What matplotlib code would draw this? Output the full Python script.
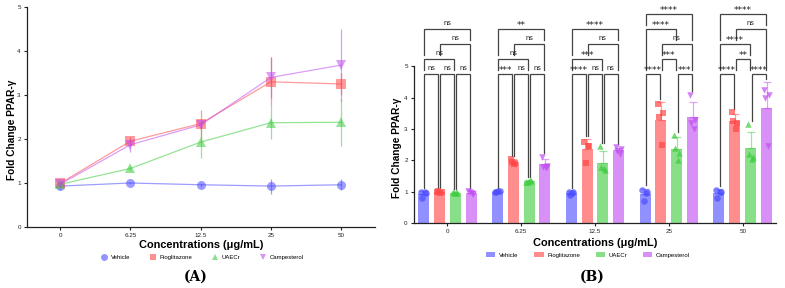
import numpy as np
import matplotlib
matplotlib.use("Agg")
import matplotlib.pyplot as plt
from matplotlib.lines import Line2D
from matplotlib.patches import Patch

plt.rcParams['font.family'] = ['Liberation Sans', 'DejaVu Sans']

# данные
concentrations = ['0', '6.25', '12.5', '25', '50']
groups = ['Vehicle', 'Pioglitazone', 'UAECr', 'Campesterol']
colors = ['#4d4dff', '#ff4747', '#3fcc3f', '#c04df2']
markers = ['o', 's', '^', 'v']

vehicle_mean = [0.93, 1.00, 0.96, 0.93, 0.96]
pio_mean = [0.99, 1.95, 2.35, 3.30, 3.25]
uae_mean = [0.97, 1.33, 1.93, 2.37, 2.38]
camp_mean = [0.97, 1.87, 2.32, 3.40, 3.68]

vehicle_sd = [0.10, 0.03, 0.05, 0.17, 0.12]
pio_sd = [0.03, 0.08, 0.32, 0.56, 0.24]
uae_sd = [0.03, 0.05, 0.37, 0.38, 0.54]
camp_sd = [0.05, 0.17, 0.08, 0.47, 0.82]

# отдельные точки (4 повтора на каждую концентрацию)
vehicle_pts = [[1.00, 0.97, 0.80, 0.98], [1.00, 1.02, 0.98, 1.01], [0.98, 1.00, 0.90, 0.97],
               [1.05, 1.00, 0.70, 0.97], [1.05, 1.00, 0.80, 0.99]]
pio_pts = [[1.00, 0.98, 1.02, 0.97], [2.05, 1.90, 1.95, 1.88], [2.60, 2.45, 1.90, 2.45],
           [3.80, 3.50, 3.40, 2.50], [3.55, 3.20, 3.25, 3.00]]
uae_pts = [[0.98, 0.97, 0.96, 0.98], [1.32, 1.35, 1.30, 1.36], [2.45, 1.70, 1.80, 1.77],
           [2.80, 2.25, 2.40, 2.00], [3.15, 2.10, 2.20, 2.05]]
camp_pts = [[1.02, 0.93, 0.98, 0.95], [2.12, 1.82, 1.78, 1.77], [2.43, 2.35, 2.30, 2.20],
            [4.10, 3.30, 3.20, 3.00], [4.25, 4.10, 4.00, 2.45]]

# сравнения: (i, j, метка, уровень)
comparisons = [
    [(0, 1, 'ns', 1), (1, 2, 'ns', 1), (2, 3, 'ns', 1), (0, 2, 'ns', 2), (1, 3, 'ns', 3), (0, 3, 'ns', 4)],
    [(0, 1, '***', 1), (1, 2, 'ns', 1), (2, 3, 'ns', 1), (0, 2, 'ns', 2), (1, 3, 'ns', 3), (0, 3, '**', 4)],
    [(0, 1, '****', 1), (1, 2, 'ns', 1), (2, 3, 'ns', 1), (0, 2, '***', 2), (1, 3, 'ns', 3), (0, 3, '****', 4)],
    [(0, 1, '****', 1), (2, 3, '***', 1), (1, 2, '***', 2), (1, 3, 'ns', 3), (0, 2, '****', 4), (0, 3, '****', 5)],
    [(0, 1, '****', 1), (2, 3, '****', 1), (1, 2, '**', 2), (0, 2, '****', 3), (1, 3, 'ns', 4), (0, 3, '****', 5)],
]

means = [vehicle_mean, pio_mean, uae_mean, camp_mean]
sds = [vehicle_sd, pio_sd, uae_sd, camp_sd]
points = [vehicle_pts, pio_pts, uae_pts, camp_pts]

W, H = 785, 288
fig = plt.figure(figsize=(W / 100, H / 100), dpi=100)

tick_fs = 4.5
label_fs = 7.3
xlabel_fs = 7.9


def style_axis(ax):
    for s in ['top', 'right']:
        ax.spines[s].set_visible(False)
    for s in ['left', 'bottom']:
        ax.spines[s].set_linewidth(0.9)
        ax.spines[s].set_color('#222222')
    ax.tick_params(labelsize=tick_fs, length=2.5, width=0.8, pad=2, colors='#222222')


# ---- Панель A ----
axA = fig.add_axes([27 / W, 1 - 227 / H, 348 / W, 220 / H])
x = np.arange(len(concentrations))
for k in range(4):
    axA.errorbar(x, means[k], yerr=sds[k], color=colors[k], alpha=0.55, lw=0.9,
                 marker=markers[k], markersize=6.5, capsize=3.6, capthick=0.9,
                 elinewidth=0.9, markeredgewidth=0)
axA.set_xlim(-0.47, 4.48)
axA.set_ylim(0, 5)
axA.set_xticks(x)
axA.set_xticklabels(concentrations)
axA.set_yticks(range(6))
style_axis(axA)
axA.set_ylabel('Fold Change PPAR-γ', fontsize=label_fs, fontweight='bold')
axA.yaxis.set_label_coords(-0.029, 0.44)
fig.text(201 / W, 1 - 245 / H, 'Concentrations (μg/mL)', fontsize=xlabel_fs, fontweight='bold',
         ha='center', va='center')
handlesA = [Line2D([], [], color=colors[k], marker=markers[k], ls='none', alpha=0.6,
                   markersize=5, markeredgewidth=0) for k in range(4)]
fig.legend(handlesA, groups, loc='center', bbox_to_anchor=(202 / W, 1 - 257 / H), ncol=4,
           frameon=False, fontsize=4.3, handletextpad=0.5, columnspacing=3.2, handlelength=1.2,
           borderpad=0.2)
fig.text(196 / W, 1 - 277 / H, '(A)', fontsize=10, fontweight='bold', family='DejaVu Serif',
         ha='center', va='center')

# ---- Панель B ----
top_val = 7.12
axB = fig.add_axes([414 / W, 1 - 223 / H, 362 / W, 223 / H])
spacing = 0.215
bar_w = 0.15
jitter = [-0.035, 0.03, -0.02, 0.015]
for k in range(4):
    xs = x + (k - 1.5) * spacing
    axB.bar(xs, means[k], width=bar_w, color=colors[k], alpha=0.62, lw=0)
    axB.errorbar(xs, means[k], yerr=[np.zeros(5), sds[k]], fmt='none', ecolor=colors[k],
                 alpha=0.5, capsize=3, elinewidth=0.9, capthick=0.9)
    for g in range(5):
        axB.scatter(xs[g] + np.array(jitter), points[k][g], marker=markers[k], s=22,
                    color=colors[k], alpha=0.7, lw=0, zorder=3)

# скобки значимости
line_c = '#444444'
level_y = lambda L: 4.76 + (L - 1) * 0.48
shrink = 0.012
for g in range(5):
    comps = comparisons[g]
    xs = [g + (k - 1.5) * spacing for k in range(4)]
    tops = [max(max(points[k][g]), means[k][g] + sds[k][g]) for k in range(4)]
    for (i, j, lab, L) in comps:
        y = level_y(L)
        xl, xr = xs[i] + shrink, xs[j] - shrink
        legs = []
        for idx in (i, j):
            lower = [c[3] for c in comps if c[3] < L and c[0] <= idx <= c[1]]
            if lower:
                legs.append(level_y(max(lower)) + 0.12)
            else:
                legs.append(tops[idx] + 0.1)
        axB.plot([xl, xl, xr, xr], [legs[0], y, y, legs[1]], color=line_c, lw=0.9,
                 solid_joinstyle='miter', clip_on=False)
        if lab == 'ns':
            axB.text((xl + xr) / 2, y + 0.06, lab, fontsize=5.3, ha='center', va='bottom',
                     color='#222222')
        else:
            axB.text((xl + xr) / 2, y - 0.04, lab, fontsize=6.6, ha='center', va='bottom',
                     color='#222222', family='DejaVu Sans')

axB.set_xlim(-0.45, 4.45)
axB.set_ylim(0, top_val)
axB.set_xticks(x)
axB.set_xticklabels(concentrations)
axB.set_yticks(range(6))
style_axis(axB)
axB.spines['left'].set_bounds(0, 5)
axB.set_ylabel('Fold Change PPAR-γ', fontsize=label_fs, fontweight='bold')
axB.yaxis.set_label_coords(-0.033, 2.4 / top_val)
fig.text(595 / W, 1 - 243 / H, 'Concentrations (μg/mL)', fontsize=xlabel_fs, fontweight='bold',
         ha='center', va='center')
handlesB = [Patch(facecolor=colors[k], alpha=0.62, lw=0) for k in range(4)]
fig.legend(handlesB, groups, loc='center', bbox_to_anchor=(588 / W, 1 - 255 / H), ncol=4,
           frameon=False, fontsize=4.3, handletextpad=0.6, columnspacing=2.6,
           handlelength=1.6, handleheight=0.8, borderpad=0.2)
fig.text(592 / W, 1 - 277 / H, '(B)', fontsize=10, fontweight='bold', family='DejaVu Serif',
         ha='center', va='center')

fig.savefig('out.png', dpi=100)
